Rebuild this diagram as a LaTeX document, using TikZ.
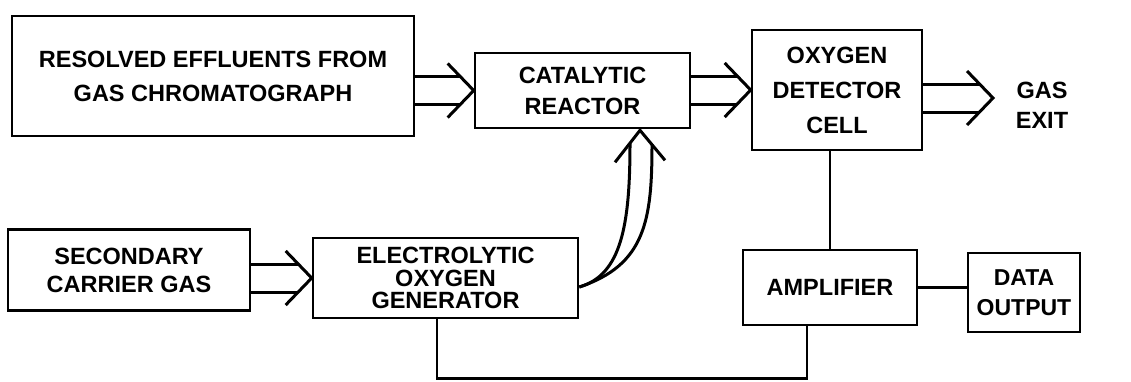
\documentclass[tikz,border=0pt]{standalone}
\usepackage{fontspec}
\usetikzlibrary{calc}
\newfontfamily\diafont{Liberation Sans Bold}
\newcommand\hdarrow[2]{%
  \draw[arr] ($(#1)+(0,-14)$) -- ($(#2)+(-13.5,-14)$);
  \draw[arr] ($(#1)+(0,14)$) -- ($(#2)+(-13.5,14)$);
  \draw[arr,line join=miter] ($(#2)+(-26,-27)$) -- (#2) -- ($(#2)+(-26,27)$);}
\begin{document}
\begin{tikzpicture}[x=1pt,y=-1pt,
  box/.style={draw,line width=2.6pt,rectangle,inner sep=0pt,align=center,
    font=\diafont\fontsize{23.5}{31}\selectfont},
  lbl/.style={inner sep=0pt,align=center,font=\diafont\fontsize{23.5}{30}\selectfont},
  arr/.style={line width=3pt},
  ln/.style={line width=2.4pt}]
\useasboundingbox[fill=white] (0,0) rectangle (1131,381);

\node[box,minimum width=402pt,minimum height=120pt,
  font=\diafont\fontsize{23.5}{34}\selectfont] (res) at (213,76)
  {\rule{0pt}{8pt}RESOLVED EFFLUENTS FROM\\GAS CHROMATOGRAPH};
\node[box,minimum width=215pt,minimum height=75pt] (cat) at (582.5,90.5)
  {CATALYTIC\\REACTOR};
\node[box,minimum width=170pt,minimum height=120pt,
  font=\diafont\fontsize{23.5}{35}\selectfont] (det) at (837,90)
  {OXYGEN\\DETECTOR\\CELL};
\node[lbl] (exit) at (1042,105) {GAS\\EXIT};
\coordinate (gx) at (993,98);

\node[box,minimum width=242pt,minimum height=81pt,
  font=\diafont\fontsize{23.5}{28}\selectfont] (sec) at (129,270)
  {SECONDARY\\CARRIER GAS};
\node[box,minimum width=265pt,minimum height=80pt,
  font=\diafont\fontsize{23.5}{22.5}\selectfont] (gen) at (445.5,278)
  {ELECTROLYTIC\\OXYGEN\\GENERATOR};
\node[box,minimum width=174pt,minimum height=75pt] (amp) at (830,287.5)
  {AMPLIFIER};
\node[box,minimum width=112pt,minimum height=79pt,
  font=\diafont\fontsize{23}{30}\selectfont] (data) at (1024,292.5)
  {DATA\\OUTPUT};

% double arrows
\hdarrow{res.east |- cat.west}{cat.west}
\hdarrow{cat.east |- det.west}{det.west}
\hdarrow{det.east |- gx}{gx}
\hdarrow{sec.east |- gen.west}{gen.west}

% curved double arrow from generator to reactor
\coordinate (gs) at ($(gen.east)+(0,9)$);
\coordinate (ct) at ($(cat.south)+(57.5,1)$);
\draw[arr] (gs) .. controls ($(gs)+(42,-12)$) and ($(ct)+(-10,95)$) .. ($(ct)+(-10,13)$);
\draw[arr] (gs) .. controls ($(gs)+(66,-22)$) and ($(ct)+(12,90)$) .. ($(ct)+(12,14)$);
\draw[arr,line join=miter] ($(ct)+(-25,32)$) -- (ct) -- ($(ct)+(25,30)$);

% signal lines
\draw[ln] (amp.north) -- (amp.north |- det.south);
\draw[ln] (amp.east) -- (amp.east -| data.west);
\draw[ln] ($(amp.south)+(-23,0)$) -- ($(amp.south)+(-23,52)$) -| ($(gen.south)+(-8.5,0)$);
\end{tikzpicture}
\end{document}
